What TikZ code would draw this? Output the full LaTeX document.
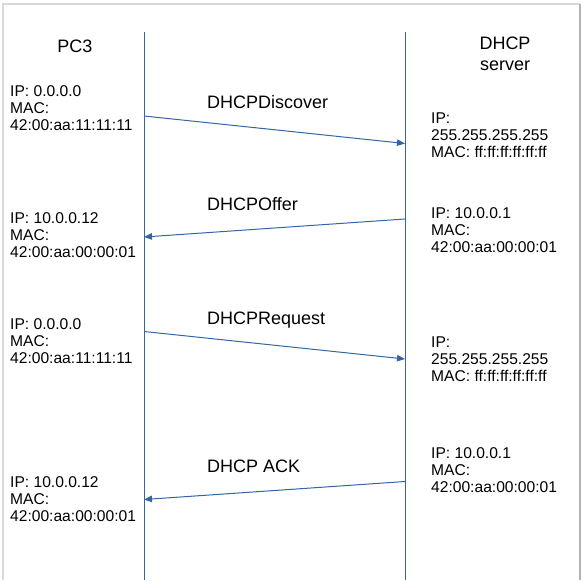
\documentclass[tikz,border=0pt]{standalone}
\usepackage{fontspec}
\setmainfont{Liberation Sans}
\usetikzlibrary{positioning, arrows.meta}

\definecolor{lineblue}{RGB}{52,101,164}

\begin{document}
\begin{tikzpicture}[
    x=1pt, y=-1pt,
    title/.style={inner sep=0pt, align=center, anchor=north,
                  font=\fontsize{18}{21}\selectfont},
    info/.style={inner sep=0pt, align=left, anchor=north west,
                 font=\fontsize{15.6}{17.2}\selectfont},
    msglabel/.style={inner sep=0pt, anchor=north west,
                     font=\fontsize{18}{21}\selectfont},
    lifeline/.style={draw=lineblue, line width=1pt},
    msg/.style={draw=lineblue, line width=1pt,
                -{Triangle[length=8pt, width=6.5pt]}, lineblue}
  ]
    \useasboundingbox (0,0) rectangle (585,580);

    % Frame
    \draw[gray!30, line width=2pt] (3,580) -- (3,4) -- (580,4);
    \draw[gray!60, line width=2pt] (580,4) -- (580,580);

    % Titles
    \node[title] (pc) at (75,40) {PC3};
    \node[title] (server) at (505,37) {DHCP\\server};

    % Lifelines
    \coordinate (pc-top) at (144,32);
    \coordinate (pc-bot) at (144,580);
    \coordinate (srv-top) at (405,32);
    \coordinate (srv-bot) at (405,580);
    \draw[lifeline] (pc-top) -- (pc-bot);
    \draw[lifeline] (srv-top) -- (srv-bot);

    % Step 1: discover
    \node[info] (pc1) at (10,85) {IP: 0.0.0.0\\MAC:\\42:00:aa:11:11:11};
    \node[info] (srv1) at (431,112.5) {IP:\\255.255.255.255\\MAC: ff:ff:ff:ff:ff:ff};
    \node[msglabel] (discover) at (207,95) {DHCPDiscover};
    \coordinate (d-from) at (144,116);
    \coordinate (d-to) at (405,143.5);

    % Step 2: offer
    \node[info] (srv2) at (431,207) {IP: 10.0.0.1\\MAC:\\42:00:aa:00:00:01};
    \node[info] (pc2) at (10,212.5) {IP: 10.0.0.12\\MAC:\\42:00:aa:00:00:01};
    \node[msglabel] (offer) at (207,197.5) {DHCPOffer};
    \coordinate (o-from) at (405,219);
    \coordinate (o-to) at (144,237);

    % Step 3: request
    \node[info] (pc3) at (10,318.5) {IP: 0.0.0.0\\MAC:\\42:00:aa:11:11:11};
    \node[info] (srv3) at (431,336.5) {IP:\\255.255.255.255\\MAC: ff:ff:ff:ff:ff:ff};
    \node[msglabel] (request) at (207,311.5) {DHCPRequest};
    \coordinate (r-from) at (144,331.5);
    \coordinate (r-to) at (405,359);

    % Step 4: ack
    \node[info] (srv4) at (431,447.5) {IP: 10.0.0.1\\MAC:\\42:00:aa:00:00:01};
    \node[info] (pc4) at (10,476) {IP: 10.0.0.12\\MAC:\\42:00:aa:00:00:01};
    \node[msglabel] (ack) at (207,460) {DHCP ACK};
    \coordinate (a-from) at (405,481.5);
    \coordinate (a-to) at (144,499.5);

    % Messages
    \draw[msg] (d-from) -- (d-to);
    \draw[msg] (o-from) -- (o-to);
    \draw[msg] (r-from) -- (r-to);
    \draw[msg] (a-from) -- (a-to);

\end{tikzpicture}
\end{document}
